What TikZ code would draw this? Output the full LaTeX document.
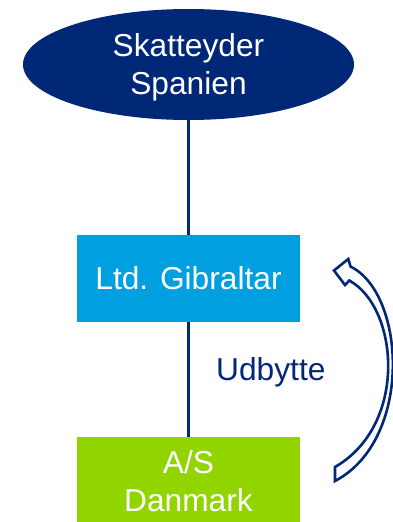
\documentclass[tikz,border=0pt]{standalone}
\usepackage{fontspec}
\setmainfont{Liberation Sans}
\usetikzlibrary{shapes.geometric}
\definecolor{navy}{RGB}{0,40,118}
\definecolor{skyblue}{RGB}{0,160,224}
\definecolor{limegreen}{RGB}{146,212,0}
\tikzset{
  label font/.style={font=\fontsize{31.7}{37.5}\selectfont},
  entity/.style={label font, text=white, align=center, inner sep=0pt},
  companybox/.style={entity, rectangle, minimum width=223pt, minimum height=87pt},
  link/.style={draw=navy, line width=2.8pt},
  flowarrow/.style={draw=navy, fill=white, line width=2.6pt, line join=miter}
}
\begin{document}
\begin{tikzpicture}[x=1pt, y=-1pt]
  \clip (0,0) rectangle (393,522);
  \fill[white] (0,0) rectangle (393,522);

  % owner and companies
  \node[ellipse, fill=navy, inner sep=0pt, minimum width=331pt, minimum height=111pt]
    (owner) at (188.5,64.5) {};
  \node[entity] (ownertext) at ([yshift=-3pt]owner.center) {Skatteyder\\Spanien};
  \node[companybox, fill=skyblue] (ltd) at (188.5,278.5) {Ltd. Gibraltar};
  \node[companybox, fill=limegreen, minimum height=88pt] (as) at (188.5,481) {A/S\\Danmark};

  % ownership lines
  \draw[link] (owner.south) -- (ltd.north);
  \draw[link] (ltd.south) -- (as.north);

  % dividend label
  \node[label font, text=navy, anchor=base west, inner sep=0pt] (div) at (216,380) {Udbytte};

  % curved hollow arrow from A/S Danmark up to Ltd. Gibraltar
  \coordinate (tip) at (334,270.5);
  \coordinate (barbU) at (348.3,259);
  \coordinate (shaftO) at (350.5,266.5);
  \coordinate (barbL) at (345,285);
  \coordinate (shaftI) at (349.3,280.5);
  \coordinate (tailI) at (335,467);
  \coordinate (tailO) at (335,481);
  \draw[flowarrow]
    (shaftO) -- (barbU) -- (tip) -- (barbL) -- (shaftI)
    .. controls (399,308) and (408,425) .. (tailI)
    -- (tailO)
    .. controls (413,440) and (406,294) .. (shaftO) -- cycle;
\end{tikzpicture}
\end{document}
